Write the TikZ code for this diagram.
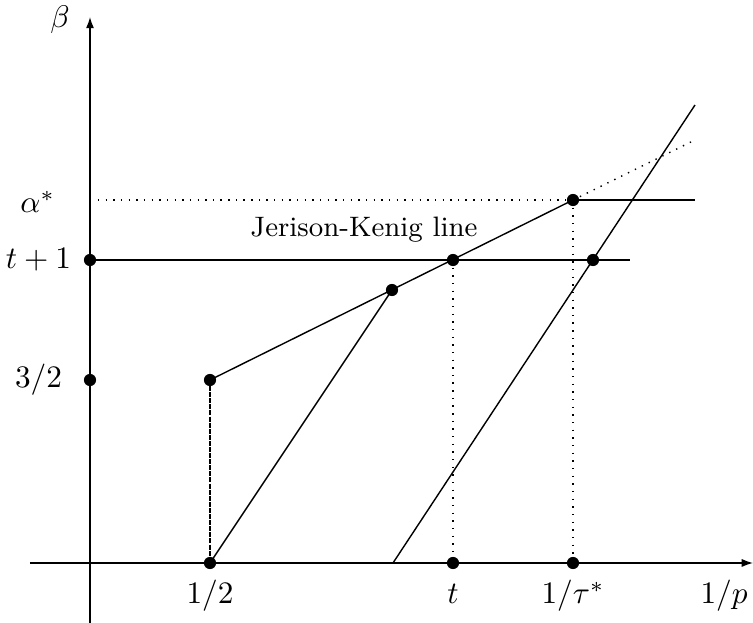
\documentclass[tikz,border=0pt]{standalone}
\usetikzlibrary{arrows.meta}
\begin{document}
\begin{tikzpicture}[x=0.32pt,y=-0.32pt,
  dot/.style={circle,fill=black,inner sep=0pt,minimum size=3.9pt},
  ln/.style={line width=0.45pt},
  dt/.style={line width=0.45pt,dotted},
  dsh/.style={line width=0.45pt,dash pattern=on 1.6pt off 0.35pt},
  ax/.style={line width=0.45pt,-{Latex[length=3.6pt,width=2.6pt]}}]
\useasboundingbox (0,0) rectangle (753,623);
% axes
\coordinate (xs) at (30,563);
\coordinate (xe) at (753,563);
\coordinate (ys) at (90,640);
\coordinate (ye) at (90,17);
\draw[ax] (xs) -- (xe);
\draw[ax] (ys) -- (ye);
% points
\node[dot] (Y1) at (90,380) {};
\node[dot] (Y2) at (90,260) {};
\node[dot] (A) at (210,380) {};
\node[dot] (H) at (210,563) {};
\node[dot] (B) at (392,290) {};
\node[dot] (C) at (453,260) {};
\node[dot] (D) at (573,200) {};
\node[dot] (E) at (593,260) {};
\node[dot] (T) at (453,563) {};
\node[dot] (S) at (573,563) {};
% free ends
\coordinate (hlE) at (630,260);
\coordinate (dE) at (695,200);
\coordinate (dotE) at (695,140);
\coordinate (aS) at (98,200);
\coordinate (l2s) at (393,563);
\coordinate (l2e) at (695,105);
% lines
\draw[ln] (Y2.center) -- (hlE);
\draw[ln] (A.center) -- (D.center);
\draw[ln] (D.center) -- (dE);
\draw[dt] (D.center) -- (dotE);
\draw[dt] (aS) -- (D.center);
\draw[dt] (C.center) -- (T.center);
\draw[dt] (D.center) -- (S.center);
\draw[dsh] (A.center) -- (H.center);
\draw[ln] (H.center) -- (B.center);
\draw[ln] (l2s) -- (l2e);
% labels
\node (lb) at (60,20) {$\beta$};
\node[anchor=east] (la) at (66,202) {$\alpha^*$};
\node[anchor=east] (lt) at (82,260) {$t+1$};
\node[anchor=east] (l32) at (73,380) {$3/2$};
\node[anchor=base] (x1) at (210,604) {$1/2$};
\node[anchor=base] (x2) at (453,604) {$t$};
\node[anchor=base] (x3) at (573,604) {$1/\tau^*$};
\node[anchor=base] (x4) at (724,604) {$1/p$};
\node[font=\small] (jk) at (364,230) {Jerison-Kenig line};
\end{tikzpicture}
\end{document}
